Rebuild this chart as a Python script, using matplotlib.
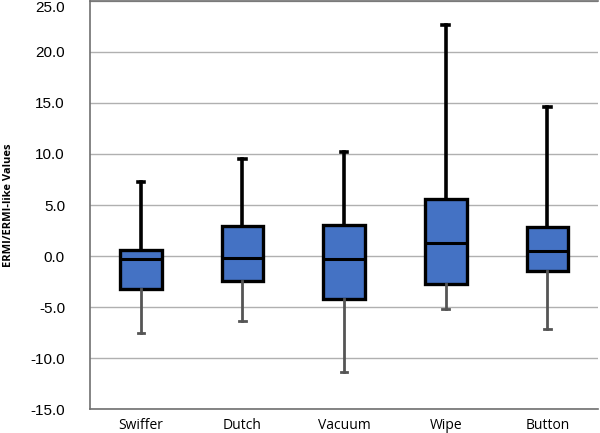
import matplotlib.pyplot as plt

categories = ["Swiffer", "Dutch", "Vacuum", "Wipe", "Button"]
whisker_low = [-7.5, -6.4, -11.4, -5.2, -7.1]
q1 = [-3.2, -2.45, -4.2, -2.7, -1.5]
median = [-0.25, -0.15, -0.25, 1.25, 0.5]
q3 = [0.6, 2.9, 3.0, 5.6, 2.85]
whisker_high = [7.25, 9.5, 10.2, 22.6, 14.6]

stats = []
for i, name in enumerate(categories):
    stats.append({"label": name, "whislo": whisker_low[i], "q1": q1[i],
                  "med": median[i], "q3": q3[i], "whishi": whisker_high[i]})

fig = plt.figure(figsize=(6, 4.33), dpi=100)
ax = fig.add_axes([0.15, 0.055, 0.847, 0.943])

bp = ax.bxp(stats, widths=0.41, patch_artist=True, showfliers=False,
            boxprops=dict(facecolor="#4472C4", edgecolor="black", linewidth=2.4),
            medianprops=dict(color="black", linewidth=2.2),
            whiskerprops=dict(linewidth=2.6),
            capprops=dict(linewidth=2.6),
            capwidths=0.065)

# lower whiskers are grey, upper ones black
for i in range(len(categories)):
    for art in (bp["whiskers"][2 * i], bp["caps"][2 * i]):
        art.set_color("#555555")
        art.set_linewidth(2.0)
    for art in (bp["whiskers"][2 * i + 1], bp["caps"][2 * i + 1]):
        art.set_color("black")

ax.set_xlim(0.5, 5.5)
ax.set_ylim(-15, 25)
ax.set_yticks(range(-15, 26, 5))
ax.set_yticklabels(["%.1f" % v for v in range(-15, 26, 5)],
                   fontsize=11, family="Liberation Sans")
ax.get_yticklabels()[-1].set_va("top")
ax.set_xticklabels(categories, fontsize=10, family="Open Sans")
ax.tick_params(axis="both", length=0)
ax.tick_params(axis="y", pad=18)
ax.tick_params(axis="x", pad=6)

ax.grid(axis="y", color="#b0b0b0", linewidth=1.0)
ax.set_axisbelow(True)
for side in ["left", "bottom", "top"]:
    ax.spines[side].set_color("#707070")
    ax.spines[side].set_linewidth(1.2)
ax.spines["right"].set_visible(False)

ax.set_ylabel("ERMI/ERMI-like Values", fontsize=8, fontweight="bold",
              family="Open Sans")
ax.yaxis.set_label_coords(-0.15, 0.5)

fig.savefig("out.png", dpi=100)
